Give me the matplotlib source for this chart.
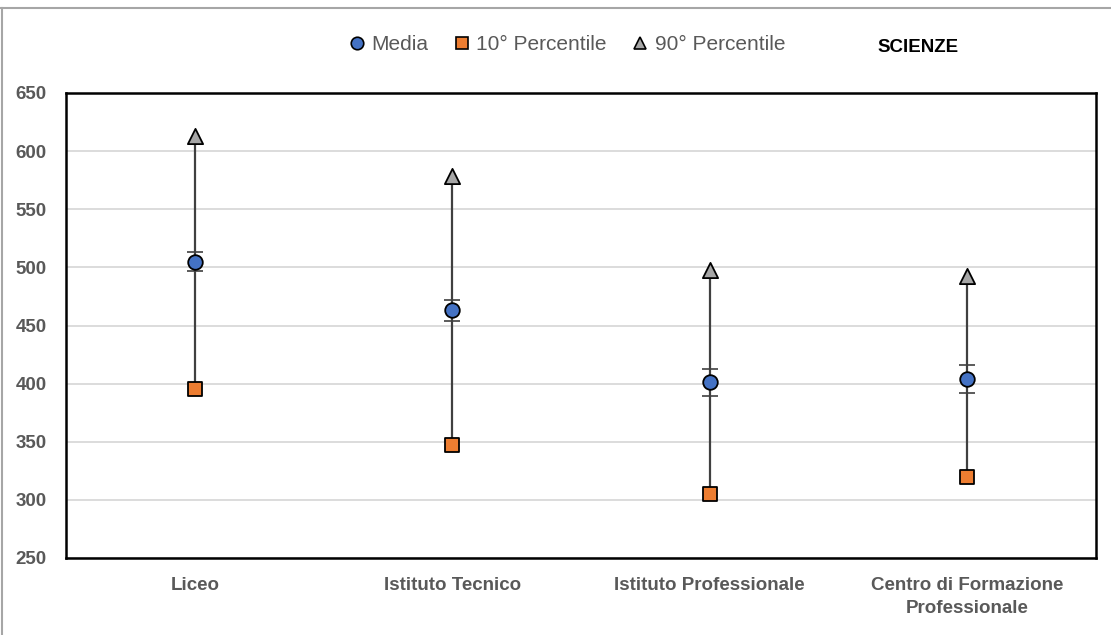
import matplotlib
matplotlib.use("Agg")
import matplotlib.pyplot as plt
from matplotlib.lines import Line2D
import numpy as np

categories = ["Liceo", "Istituto Tecnico", "Istituto Professionale", "Centro di Formazione\nProfessionale"]
media = [505, 463, 401, 404]
ci_half = [8, 9, 12, 12]
p10 = [395, 347, 305, 320]
p90 = [613, 579, 498, 493]
yticks = [250, 300, 350, 400, 450, 500, 550, 600, 650]

plt.rcParams['font.family'] = ['Liberation Sans', 'DejaVu Sans']

fig = plt.figure(figsize=(11.11, 6.35), dpi=100)
ax = fig.add_axes([66/1111, 1-558/635, (1096-66)/1111, (558-93)/635])

x = np.arange(len(categories))
ax.set_xlim(-0.5, len(categories)-0.5)
ax.set_ylim(250, 650)
ax.set_yticks(yticks)
ax.yaxis.grid(True, color='#d9d9d9', linewidth=1.3)
ax.set_axisbelow(True)
for s in ax.spines.values():
    s.set_linewidth(1.8)
    s.set_color('black')

# whiskers p10 -> p90
ax.vlines(x, p10, p90, color='#404040', linewidth=1.6, zorder=2)
# CI caps
ax.errorbar(x, media, yerr=ci_half, fmt='none', ecolor='#404040', elinewidth=1.2,
            capsize=6, capthick=1.2, zorder=3)
ax.scatter(x, p90, marker='^', s=120, color='#a6a6a6', edgecolor='black', linewidth=1.3, zorder=4)
ax.scatter(x, p10, marker='s', s=100, color='#ed7d31', edgecolor='black', linewidth=1.3, zorder=4)
ax.scatter(x, media, marker='o', s=110, color='#4472c4', edgecolor='black', linewidth=1.3, zorder=5)

ax.set_xticks(x)
ax.set_xticklabels(categories, fontsize=13.5, fontweight='bold', color='#595959', linespacing=1.45)
ax.tick_params(axis='x', length=0, pad=14)
ax.tick_params(axis='y', length=0, pad=14, labelsize=13.5, labelcolor='#595959')
for lab in ax.get_yticklabels():
    lab.set_fontweight('bold')

handles = [
    Line2D([], [], marker='o', linestyle='none', markersize=9, markerfacecolor='#4472c4', markeredgecolor='black', markeredgewidth=1.2),
    Line2D([], [], marker='s', linestyle='none', markersize=9, markerfacecolor='#ed7d31', markeredgecolor='black', markeredgewidth=1.2),
    Line2D([], [], marker='^', linestyle='none', markersize=9, markerfacecolor='#a6a6a6', markeredgecolor='black', markeredgewidth=1.2),
]
fig.legend(handles, ["Media", "10° Percentile", "90° Percentile"], loc='center',
           bbox_to_anchor=(566/1111, 1-45/635), ncol=3, frameon=False,
           handlelength=1.0, handletextpad=0.2, columnspacing=1.1, prop={'size': 15},
           labelcolor='#595959')
fig.text(918/1111, 1-47/635, "SCIENZE", ha='center', va='center', fontsize=13.5, fontweight='bold', color='black')

# outer frame lines
fig.add_artist(Line2D([0, 1], [1-8/635, 1-8/635], color='#a6a6a6', linewidth=1.5, transform=fig.transFigure))
fig.add_artist(Line2D([2/1111, 2/1111], [0, 1-8/635], color='#a6a6a6', linewidth=1.5, transform=fig.transFigure))

fig.savefig("out.png", dpi=100)
